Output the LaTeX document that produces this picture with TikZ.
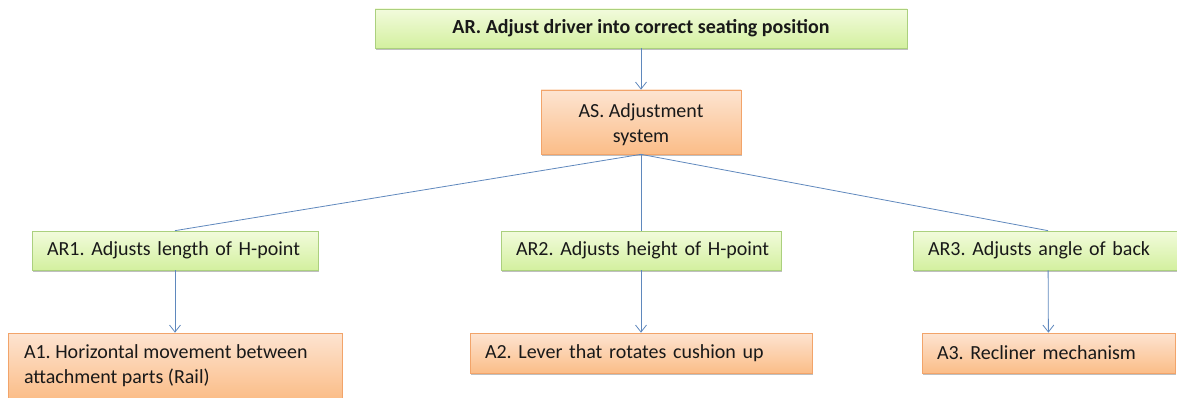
\documentclass[tikz,border=0pt]{standalone}
\usepackage{fontspec}
\setmainfont{Carlito}
\frenchspacing
\usetikzlibrary{arrows.meta,shadows}
\definecolor{gtop}{HTML}{F2FBDC}
\definecolor{gbot}{HTML}{D3F09F}
\definecolor{gline}{HTML}{ABD07E}
\definecolor{otop}{HTML}{FDE4D1}
\definecolor{obot}{HTML}{FBBD88}
\definecolor{oline}{HTML}{F2A46A}
\definecolor{conn}{HTML}{5F88BD}
\begin{document}
\begin{tikzpicture}[x=1pt,y=-1pt,
  box/.style={rectangle, draw, line width=0.7pt, inner ysep=0pt,
    font=\fontsize{20}{25}\selectfont, text=black!90,
    drop shadow={shadow xshift=1.2pt, shadow yshift=-1.8pt, opacity=0.25, fill=black}},
  gbox/.style={box, draw=gline, top color=gtop, bottom color=gbot},
  obox/.style={box, draw=oline, top color=otop, bottom color=obot},
  lbox/.style={inner xsep=5pt, align=left, execute at begin node=\hspace*{10pt}},
  conn/.style={draw=conn, line width=0.8pt},
  arr/.style={conn, -{Straight Barb[length=7pt,width=11pt,line width=0.8pt]}}
]
\useasboundingbox (0,0) rectangle (1177,398);
\begin{scope}
\clip (0,0) rectangle (1177,398);
\node[gbox, minimum width=532pt, minimum height=39pt, font=\fontsize{20}{24}\selectfont\bfseries] (AR) at (641,28.5) {AR. Adjust driver into correct seating position};
\node[obox, minimum width=200pt, minimum height=64pt] (AS) at (641,122) {};
\node[font=\fontsize{20}{25}\selectfont, text=black!90, align=center] (AStext) at (641,125) {AS. Adjustment\\system};
\node[gbox, lbox, text width=276pt, minimum height=39pt] (AR1) at (175,250.5) {AR1. Adjusts length of H-point};
\node[gbox, lbox, text width=270pt, minimum height=39pt] (AR2) at (641,250.5) {AR2. Adjusts height of H-point};
\node[gbox, lbox, text width=260pt, minimum height=39pt] (AR3) at (1048,250.5) {AR3. Adjusts angle of back};
\node[obox, inner xsep=16pt, align=justify, text width=302pt, minimum height=66pt] (A1) at (175,366) {A1. Horizontal movement between\\attachment parts (Rail)};
\node[obox, lbox, text width=332pt, minimum height=40pt] (A2) at (641,353) {A2. Lever that rotates cushion up};
\node[obox, lbox, text width=243pt, minimum height=40pt] (A3) at (1048.5,353) {A3. Recliner mechanism};
\draw[arr] (AR) -- (AS);
\draw[conn] (AS.south) -- (AR1.north);
\draw[conn] (AS.south) -- (AR2.north);
\draw[conn] (AS.south) -- (AR3.north);
\draw[arr] (AR1) -- (A1);
\draw[arr] (AR2) -- (A2);
\draw[arr] (AR3) -- (A3);
\end{scope}
\end{tikzpicture}
\end{document}
